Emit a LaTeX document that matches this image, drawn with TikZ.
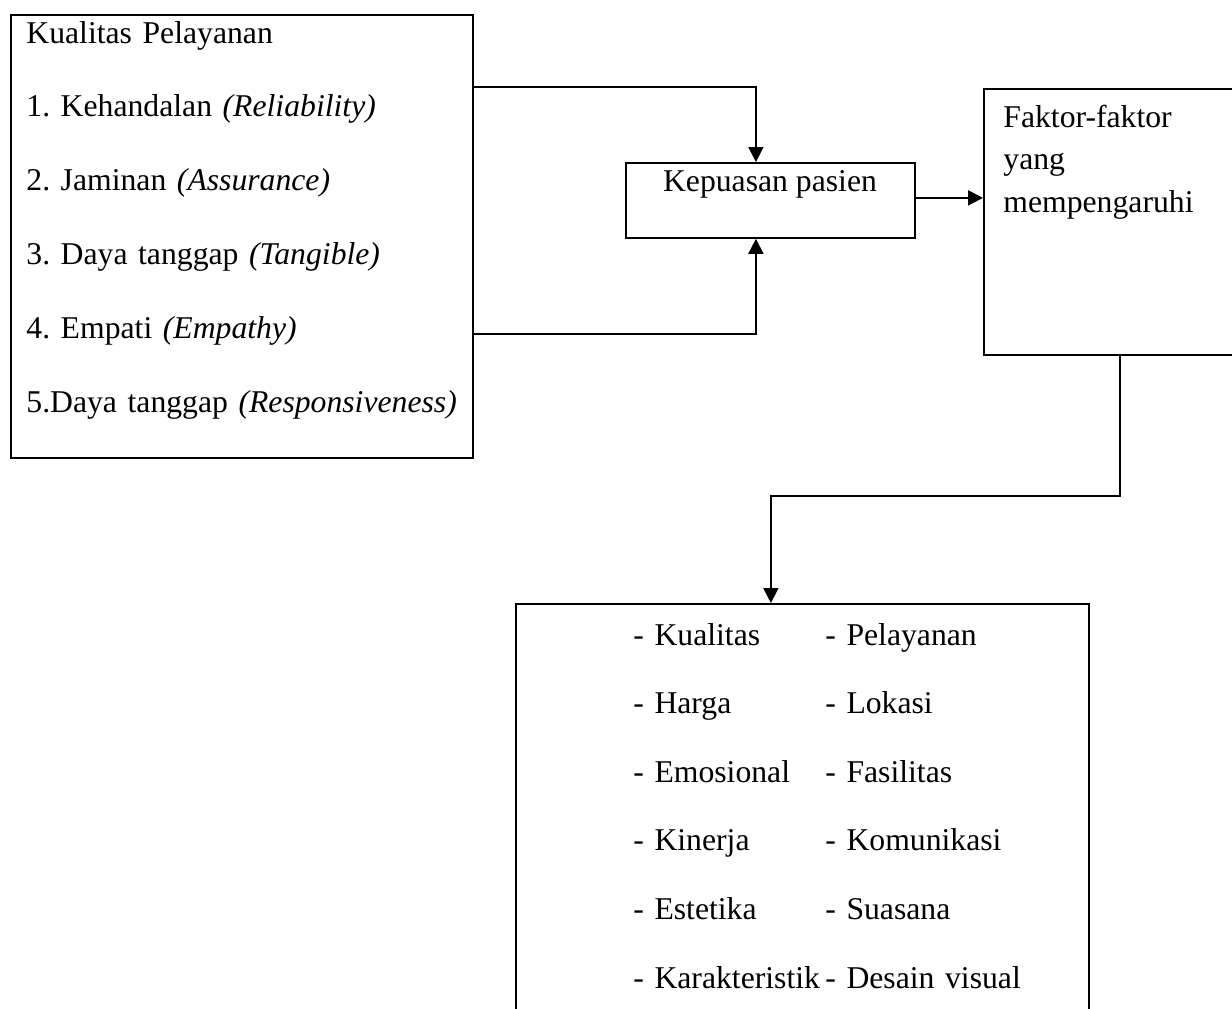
\documentclass[tikz,border=0pt]{standalone}
\usepackage{fontspec}
\setmainfont{Liberation Serif}
\frenchspacing
\usetikzlibrary{arrows.meta}
\tikzset{
  box/.style={draw, line width=0.9pt, anchor=north west, inner sep=0pt},
  listtext/.style={anchor=base west, inner sep=0pt, align=left},
  arrowline/.style={line width=0.9pt, -{Triangle[length=7.5pt,width=7.5pt]}},
}
\begin{document}
\begin{tikzpicture}[x=0.5pt,y=-0.5pt,font=\fontsize{15.85}{19}\selectfont]
		\useasboundingbox (0,0) rectangle (1232,1008);
		\clip (0,0) rectangle (1232,1008);
		% Boxes
		\node[box, minimum width=231pt, minimum height=221.5pt] at (10,14) (kualitas) {};
		\node[box, minimum width=144.5pt, minimum height=37.5pt] at (625,162) (kepuasan) {};
		\node[box, minimum width=136pt, minimum height=133pt] at (983,88) (faktor) {};
		\node[box, minimum width=286.5pt, minimum height=230pt] at (515,603) (daftar) {};

		% Texts in the boxes
		\node[listtext, text width=228pt, font=\fontsize{15.85}{36.9}\selectfont] at (26,43) (kualitastext) {Kualitas Pelayanan\\1. Kehandalan \textit{(Reliability)}\\2. Jaminan \textit{(Assurance)}\\3. Daya tanggap \textit{(Tangible)}\\4. Empati \textit{(Empathy)}\\5.Daya tanggap \textit{(Responsiveness)}};
		\node[anchor=base, inner sep=0pt] at (770,191) (kepuasantext) {Kepuasan pasien};
		\node[listtext, text width=115pt, font=\fontsize{15.85}{21.25}\selectfont] at (1003,127) (faktortext) {Faktor-faktor\\yang\\mempengaruhi};
		\node[listtext, text width=100pt, font=\fontsize{15.85}{34.3}\selectfont] at (633,645) (daftarkiri) {- Kualitas\\- Harga\\- Emosional\\- Kinerja\\- Estetika\\- Karakteristik};
		\node[listtext, text width=120pt, font=\fontsize{15.85}{34.3}\selectfont] at (825,645) (daftarkanan) {- Pelayanan\\- Lokasi\\- Fasilitas\\- Komunikasi\\- Suasana\\- Desain visual};

		% Connections
		\draw[arrowline] ([yshift=-36.5pt]kualitas.north east) -| ([xshift=-7.25pt]kepuasan.north);
		\draw[arrowline] ([yshift=62.5pt]kualitas.south east) -| ([xshift=-7.25pt]kepuasan.south);
		\draw[arrowline] ([yshift=1.25pt]kepuasan.east) -- ([yshift=1.25pt]kepuasan.east -| faktor.west);
		\draw[arrowline] (faktor.south) -- ++(0,140) -| ([xshift=-15.75pt]daftar.north);
\end{tikzpicture}
\end{document}
